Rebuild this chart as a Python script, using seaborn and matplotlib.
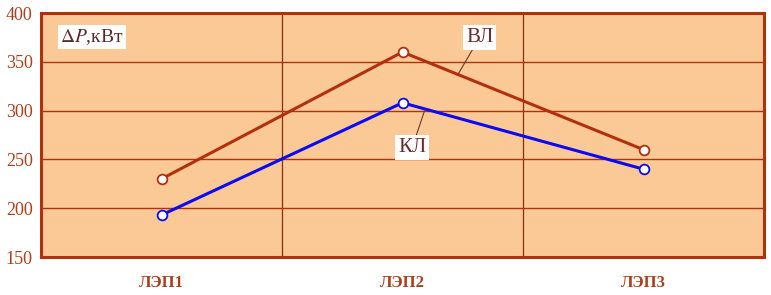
import matplotlib
matplotlib.use("Agg")
import matplotlib.pyplot as plt
import seaborn as sns
import pandas as pd
import numpy as np

# data
lines = ["ЛЭП1", "ЛЭП2", "ЛЭП3"]
vl_loss = [230, 360, 260]   # ВЛ, кВт
kl_loss = [193, 308, 240]   # КЛ, кВт
y_ticks = [150, 200, 250, 300, 350, 400]

brown = "#b3300f"
blue = "#0a0af5"
peach = "#fbc995"
label_col = "#a8401e"

sns.set_theme(style="white")
plt.rcParams["font.family"] = ["Liberation Serif", "DejaVu Serif"]
plt.rcParams["mathtext.fontset"] = "stix"

df = pd.DataFrame({
    "line": lines * 2,
    "loss": vl_loss + kl_loss,
    "kind": ["ВЛ"] * 3 + ["КЛ"] * 3,
})

fig = plt.figure(figsize=(7.71, 2.95), dpi=100)
ax = fig.add_axes([41 / 771, 1 - 257 / 295, 723 / 771, 244 / 295])
ax.set_facecolor(peach)

sns.lineplot(data=df, x="line", y="loss", hue="kind",
             palette={"ВЛ": brown, "КЛ": blue}, linewidth=2.2,
             marker="o", markersize=7, markerfacecolor="white",
             markeredgewidth=1.3, legend=False, ax=ax)
for ln, c in zip(ax.lines, [brown, blue]):
    ln.set_markeredgecolor(c)

ax.set_xlim(-0.5, 2.5)
ax.set_ylim(150, 400)
ax.set_yticks(y_ticks)
ax.set_xticks(range(3))
ax.set_xticklabels(lines, fontsize=12, fontweight="bold", color=label_col)
ax.set_xticks([0.5, 1.5], minor=True)
ax.tick_params(axis="y", labelsize=13, labelcolor=label_col, length=0, pad=6)
ax.tick_params(axis="x", length=0, pad=13)
ax.grid(axis="y", which="major", color=brown, linewidth=1)
ax.grid(axis="x", which="minor", color="#8a2e10", linewidth=0.9)
ax.set_xlabel("")
ax.set_ylabel("")
for s in ax.spines.values():
    s.set_color(brown)
    s.set_linewidth(2.2)

ax.text(0.026, 0.9, r"$\mathrm{\Delta}P$,кВт", transform=ax.transAxes,
        fontsize=14, color="#5a2a2a", va="center", ha="left",
        bbox=dict(facecolor="white", edgecolor="none", pad=1.5))

box = dict(facecolor="white", edgecolor="none", pad=2)
ax.annotate("ВЛ", xy=(1.23, 337), xytext=(1.32, 375),
            fontsize=15, color="#6a2a2a", ha="center", va="center", bbox=box,
            arrowprops=dict(arrowstyle="-", color="#6a3a2a", lw=0.8,
                            shrinkA=0, shrinkB=0))
ax.annotate("КЛ", xy=(1.093, 301), xytext=(1.04, 262),
            fontsize=15, color="#6a2a2a", ha="center", va="center", bbox=box,
            arrowprops=dict(arrowstyle="-", color="#6a3a2a", lw=0.8,
                            shrinkA=0, shrinkB=0))

fig.savefig("out.png", dpi=100, facecolor="white")
